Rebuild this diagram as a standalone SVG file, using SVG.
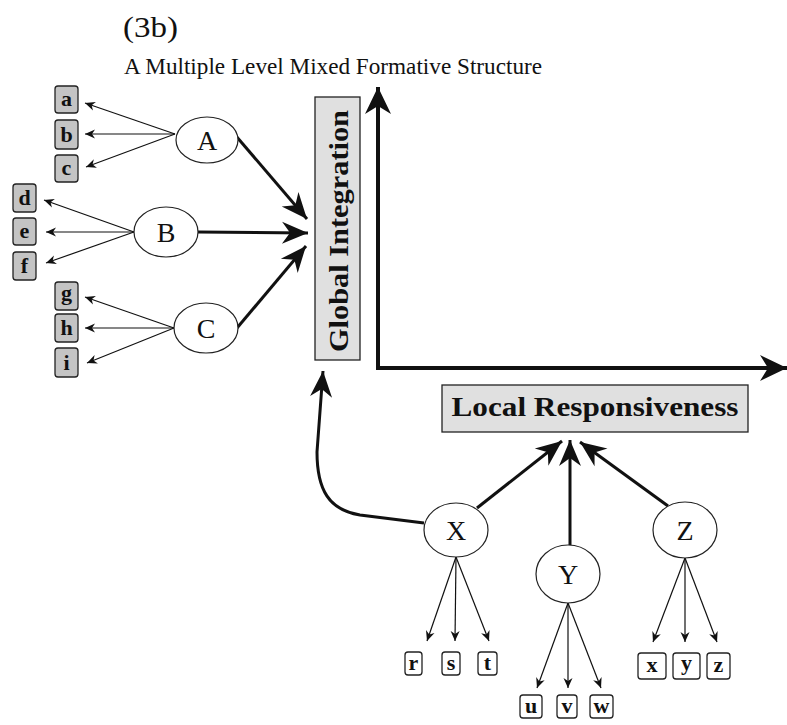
<svg xmlns="http://www.w3.org/2000/svg" width="787" height="725" viewBox="0 0 787 725">
  <defs>
    <marker id="head-big" viewBox="-27 -12 28 24" markerWidth="28" markerHeight="24" refX="0" refY="0" orient="auto" markerUnits="userSpaceOnUse">
      <path d="M0 0 L-26 -11 L-18 0 L-26 11 Z" fill="#111"/>
    </marker>
    <marker id="head-axis" viewBox="-28 -14 29 28" markerWidth="29" markerHeight="28" refX="0" refY="0" orient="auto" markerUnits="userSpaceOnUse">
      <path d="M0 0 L-27 -13 L-19 0 L-27 13 Z" fill="#111"/>
    </marker>
    <marker id="head-small" viewBox="-10 -5 11 10" markerWidth="11" markerHeight="10" refX="0" refY="0" orient="auto" markerUnits="userSpaceOnUse">
      <path d="M0 0 L-10 -4.5 L-7 0 L-10 4.5 Z" fill="#111"/>
    </marker>
  </defs>
  <style>
    .title { font-family: "Liberation Serif", "Times New Roman", serif; fill: #111; }
    .node ellipse { fill: #fff; stroke: #222; stroke-width: 1.2; }
    .node text.big { font-family: "Liberation Serif", "Times New Roman", serif; font-size: 28px; fill: #111; text-anchor: middle; }
    .leaf rect { stroke: #222; stroke-width: 1.3; }
    .leaf.grey rect { fill: #c4c4c4; }
    .leaf.white rect { fill: #fff; }
    .leaf text { font-family: "Liberation Serif", "Times New Roman", serif; font-weight: bold; font-size: 22px; fill: #111; text-anchor: middle; }
    .axislabel rect { fill: #e0e0e0; stroke: #222; stroke-width: 1.3; }
    .axislabel text { font-family: "Liberation Serif", "Times New Roman", serif; font-weight: bold; font-size: 27px; fill: #111; text-anchor: middle; }
    .thin { stroke: #111; stroke-width: 1.2; fill: none; marker-end: url(#head-small); }
    .thick { stroke: #111; stroke-width: 3; fill: none; marker-end: url(#head-big); }
    .axis { stroke: #111; stroke-width: 4; fill: none; marker-end: url(#head-axis); }
  </style>

  <rect width="787" height="725" fill="#fff"/>

  <!-- headings -->
  <text class="title" x="123" y="37" font-size="29" textLength="55" lengthAdjust="spacingAndGlyphs">(3b)</text>
  <text class="title" x="124" y="74" font-size="24" textLength="418" lengthAdjust="spacingAndGlyphs">A Multiple Level Mixed Formative Structure</text>

  <!-- connectors -->
  <g id="connectors">
    <!-- axes -->
    <line class="axis" x1="378" y1="368" x2="378" y2="87"/>
    <line class="axis" x1="376" y1="368" x2="787" y2="368"/>

    <!-- A, B, C into Global Integration -->
    <line class="thick" x1="236" y1="136" x2="307" y2="219"/>
    <line class="thick" x1="198" y1="232" x2="308" y2="233"/>
    <line class="thick" x1="237" y1="328" x2="306" y2="246"/>

    <!-- X, Y, Z into Local Responsiveness -->
    <line class="thick" x1="477" y1="508" x2="562" y2="441"/>
    <line class="thick" x1="570" y1="545" x2="570" y2="440"/>
    <line class="thick" x1="668" y1="506" x2="580" y2="442"/>

    <!-- X up to Global Integration -->
    <path class="thick" d="M424 523 L360 515 C329 510 317 490 317 452 L323 371"/>

    <!-- A to a, b, c -->
    <line class="thin" x1="175" y1="134" x2="85" y2="103"/>
    <line class="thin" x1="175" y1="134" x2="85" y2="134"/>
    <line class="thin" x1="175" y1="134" x2="86" y2="167"/>
    <!-- B to d, e, f -->
    <line class="thin" x1="134" y1="232" x2="44" y2="200"/>
    <line class="thin" x1="134" y1="232" x2="46" y2="232"/>
    <line class="thin" x1="134" y1="232" x2="46" y2="263"/>
    <!-- C to g, h, i -->
    <line class="thin" x1="174" y1="328" x2="85" y2="297"/>
    <line class="thin" x1="174" y1="328" x2="85" y2="328"/>
    <line class="thin" x1="174" y1="328" x2="87" y2="363"/>
    <!-- X to r, s, t -->
    <line class="thin" x1="456" y1="557" x2="427" y2="641"/>
    <line class="thin" x1="456" y1="557" x2="455" y2="641"/>
    <line class="thin" x1="456" y1="557" x2="489" y2="641"/>
    <!-- Y to u, v, w -->
    <line class="thin" x1="568" y1="603" x2="537" y2="688"/>
    <line class="thin" x1="568" y1="603" x2="568" y2="688"/>
    <line class="thin" x1="568" y1="603" x2="601" y2="688"/>
    <!-- Z to x, y, z -->
    <line class="thin" x1="685" y1="558" x2="653" y2="642"/>
    <line class="thin" x1="685" y1="558" x2="685" y2="642"/>
    <line class="thin" x1="685" y1="558" x2="717" y2="642"/>
  </g>

  <!-- axis labels -->
  <g id="global-integration" class="axislabel">
    <rect x="315" y="97" width="45" height="263"/>
    <text transform="translate(348 231) rotate(-90)" textLength="242" lengthAdjust="spacingAndGlyphs">Global Integration</text>
  </g>
  <g id="local-responsiveness" class="axislabel">
    <rect x="442" y="385" width="306" height="47"/>
    <text x="595" y="416" textLength="287" lengthAdjust="spacingAndGlyphs">Local Responsiveness</text>
  </g>

  <!-- main nodes -->
  <g id="node-A" class="node"><ellipse cx="207" cy="140" rx="31" ry="23"/><text class="big" x="207" y="150">A</text></g>
  <g id="node-B" class="node"><ellipse cx="166" cy="232" rx="32" ry="25"/><text class="big" x="166" y="242">B</text></g>
  <g id="node-C" class="node"><ellipse cx="206" cy="328" rx="32" ry="25"/><text class="big" x="206" y="338">C</text></g>
  <g id="node-X" class="node"><ellipse cx="456" cy="530" rx="32" ry="27"/><text class="big" x="456" y="540">X</text></g>
  <g id="node-Y" class="node"><ellipse cx="568" cy="574" rx="32" ry="29"/><text class="big" x="568" y="584">Y</text></g>
  <g id="node-Z" class="node"><ellipse cx="685" cy="530" rx="32" ry="28"/><text class="big" x="685" y="540">Z</text></g>

  <!-- leaf boxes, left side -->
  <g id="leaf-a" class="leaf grey"><rect x="55" y="86" width="23" height="27" rx="3"/><text x="66.5" y="106">a</text></g>
  <g id="leaf-b" class="leaf grey"><rect x="55" y="120" width="23" height="29" rx="3"/><text x="66.5" y="142">b</text></g>
  <g id="leaf-c" class="leaf grey"><rect x="55" y="155" width="23" height="27" rx="3"/><text x="66.5" y="175">c</text></g>
  <g id="leaf-d" class="leaf grey"><rect x="13" y="184" width="23" height="28" rx="3"/><text x="24.5" y="205">d</text></g>
  <g id="leaf-e" class="leaf grey"><rect x="13" y="218" width="23" height="27" rx="3"/><text x="24.5" y="238">e</text></g>
  <g id="leaf-f" class="leaf grey"><rect x="13" y="252" width="23" height="28" rx="3"/><text x="24.5" y="273">f</text></g>
  <g id="leaf-g" class="leaf grey"><rect x="55" y="282" width="23" height="28" rx="3"/><text x="66.5" y="300">g</text></g>
  <g id="leaf-h" class="leaf grey"><rect x="55" y="314" width="23" height="28" rx="3"/><text x="66.5" y="335">h</text></g>
  <g id="leaf-i" class="leaf grey"><rect x="55" y="348" width="23" height="29" rx="3"/><text x="66.5" y="370">i</text></g>

  <!-- leaf boxes, bottom -->
  <g id="leaf-r" class="leaf white"><rect x="405" y="652" width="17" height="23" rx="3"/><text x="413.5" y="670">r</text></g>
  <g id="leaf-s" class="leaf white"><rect x="442" y="652" width="18" height="23" rx="3"/><text x="451" y="670">s</text></g>
  <g id="leaf-t" class="leaf white"><rect x="478" y="652" width="19" height="23" rx="3"/><text x="487.5" y="670">t</text></g>
  <g id="leaf-u" class="leaf white"><rect x="520" y="695" width="22" height="23" rx="3"/><text x="531" y="713">u</text></g>
  <g id="leaf-v" class="leaf white"><rect x="557" y="695" width="20" height="23" rx="3"/><text x="567" y="713">v</text></g>
  <g id="leaf-w" class="leaf white"><rect x="590" y="695" width="23" height="23" rx="3"/><text x="601.5" y="713">w</text></g>
  <g id="leaf-x" class="leaf white"><rect x="638" y="653" width="28" height="26" rx="3"/><text x="652" y="672">x</text></g>
  <g id="leaf-y" class="leaf white"><rect x="673" y="653" width="27" height="26" rx="3"/><text x="686.5" y="670">y</text></g>
  <g id="leaf-z" class="leaf white"><rect x="707" y="653" width="23" height="26" rx="3"/><text x="718.5" y="672">z</text></g>
</svg>
